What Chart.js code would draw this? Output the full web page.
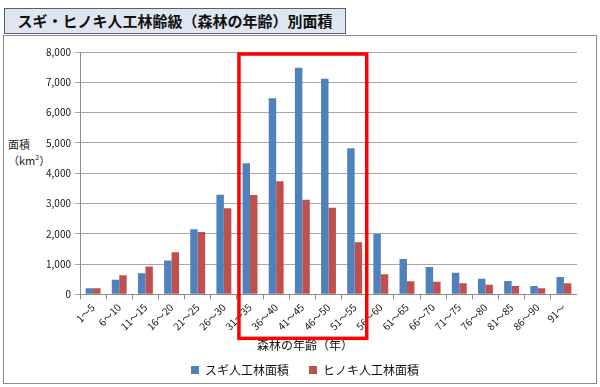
<!DOCTYPE html>
<html>
<head>
<meta charset="utf-8">
<script src="https://cdn.jsdelivr.net/npm/chart.js@4"></script>
<style>
  html, body { margin: 0; padding: 0; background: #fff; overflow: hidden; }
  body { width: 600px; height: 387px; position: relative; font-family: "Noto Sans CJK JP", sans-serif; }
  .frame { position: absolute; left: 3px; top: 35px; width: 592px; height: 347px; border: 1px solid #8c8c8c; }
  .title { position: absolute; left: 4px; top: 8px; width: 340px; height: 24px; background: #dfe6ef; border: 1px solid #4d5f7d;
           font-weight: bold; font-size: 15px; line-height: 24px; text-align: center; color: #111; }
  .ylab { position: absolute; left: 8px; top: 138px; font-size: 11px; line-height: 13px; color: #222; }
  #wrap { position: absolute; left: 33px; top: 0; width: 544px; height: 387px; }
</style>
</head>
<body>
<div class="frame"></div>
<div class="title">スギ・ヒノキ人工林齢級（森林の年齢）別面積</div>
<div class="ylab">面積<br>（km<sup style="font-size:7px">2</sup>）</div>
<div id="wrap"><canvas id="myChart"></canvas></div>
<script>
const ageLabels = ['1～5', '6～10', '11～15', '16～20', '21～25', '26～30', '31～35', '36～40', '41～45', '46～50',
    '51～55', '56～60', '61～65', '66～70', '71～75', '76～80', '81～85', '86～90', '91～'];
const sugiArea = [200, 480, 700, 1120, 2150, 3290, 4330, 6470, 7480, 7120, 4820, 1990, 1165, 900, 715, 515, 440, 275, 570];
const hinokiArea = [200, 630, 920, 1390, 2060, 2840, 3280, 3730, 3120, 2860, 1720, 660, 430, 415, 365, 320, 275, 200, 365];

// red box around 31-35 .. 51-55
const boxFrom = 6, boxTo = 10;
const redBox = {
    id: 'redBox',
    afterDraw(chart) {
        const x = chart.scales.x, a = chart.chartArea, c = chart.ctx;
        const half = (x.getPixelForValue(1) - x.getPixelForValue(0)) / 2;
        const l = x.getPixelForValue(boxFrom) - half + 2;
        const r = x.getPixelForValue(boxTo) + half - 1;
        c.save();
        c.strokeStyle = '#ff0000';
        c.lineWidth = 3.5;
        c.strokeRect(l, a.top + 2, r - l, a.bottom + 42 - a.top);
        c.restore();
    }
};

Chart.defaults.font.family = '"Noto Sans CJK JP", sans-serif';
Chart.defaults.color = '#222';

const ctx = document.getElementById('myChart');
const myChart = new Chart(ctx, {
    type: 'bar',
    data: {
        labels: ageLabels,
        datasets: [{
            label: 'スギ人工林面積',
            data: sugiArea,
            backgroundColor: '#4f81bd',
            borderColor: '#4f81bd',
            categoryPercentage: 0.57,
            barPercentage: 1
        }, {
            label: 'ヒノキ人工林面積',
            data: hinokiArea,
            backgroundColor: '#c0504d',
            borderColor: '#c0504d',
            categoryPercentage: 0.57,
            barPercentage: 1
        }]
    },
    plugins: [redBox],
    options: {
        responsive: true,
        maintainAspectRatio: false,
        animation: false,
        layout: { padding: { top: 52, right: 0, bottom: 1, left: 0 } },
        plugins: {
            title: {
                display: true,
                position: 'bottom',
                weight: 500,
                text: '森林の年齢（年）',
                color: '#111',
                font: { size: 12, weight: 'normal' },
                padding: { top: 4, bottom: -9 }
            },
            legend: {
                position: 'bottom',
                labels: { boxWidth: 8, boxHeight: 8, padding: 20, color: '#111', font: { size: 12 } }
            },
            tooltip: { enabled: false }
        },
        scales: {
            x: {
                grid: { drawOnChartArea: false, drawTicks: true, tickLength: 5, color: '#8c8c8c' },
                border: { color: '#8c8c8c' },
                ticks: { minRotation: 45, maxRotation: 45, font: { size: 10 }, color: '#111', padding: 2 }
            },
            y: {
                min: 0,
                max: 8000,
                afterFit(scale) { scale.width = 47; },
                grid: { color: '#a6a6a6', tickLength: 5 },
                border: { color: '#8c8c8c' },
                ticks: { stepSize: 1000, font: { size: 10 }, color: '#111', padding: 4 }
            }
        }
    }
});
</script>
</body>
</html>
